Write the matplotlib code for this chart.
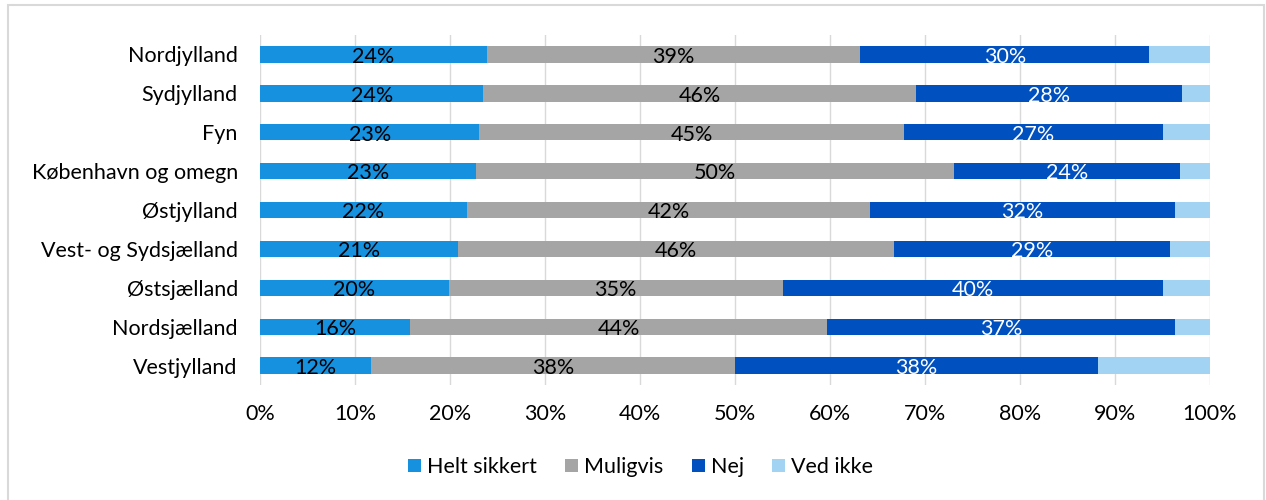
import numpy as np
import matplotlib
matplotlib.use("Agg")
import matplotlib.pyplot as plt
from matplotlib.patches import Rectangle

plt.rcParams['font.family'] = ['Lato', 'DejaVu Sans']

regions = ['Nordjylland', 'Sydjylland', 'Fyn', 'København og omegn', 'Østjylland',
           'Vest- og Sydsjælland', 'Østsjælland', 'Nordsjælland', 'Vestjylland']
helt_sikkert = [23.9, 23.5, 23.1, 22.7, 21.8, 20.8, 19.9, 15.8, 11.7]
muligvis = [39.3, 45.6, 44.7, 50.4, 42.4, 45.9, 35.1, 43.9, 38.3]
nej = [30.4, 28.0, 27.2, 23.7, 32.1, 29.1, 40.0, 36.6, 38.2]
ved_ikke = [6.4, 2.9, 5.0, 3.2, 3.7, 4.2, 5.0, 3.7, 11.8]

series = [('Helt sikkert', helt_sikkert, '#1591E0', 'black'),
          ('Muligvis', muligvis, '#A5A5A5', 'black'),
          ('Nej', nej, '#0050C0', 'white'),
          ('Ved ikke', ved_ikke, '#A3D3F2', None)]

fig = plt.figure(figsize=(12.66, 5), dpi=100)
ax = fig.add_axes([260/1266, 1 - 385/500, 950/1266, 350/500])

y = np.arange(len(regions))
left = np.zeros(len(regions))
for name, vals, color, txtcol in series:
    vals = np.array(vals)
    ax.barh(y, vals, left=left, height=0.42, color=color, label=name, zorder=2)
    if txtcol:
        for yi, l, v in zip(y, left, vals):
            ax.text(l + v / 2, yi + 0.06, f'{round(v):.0f}%', ha='center', va='center',
                    fontsize=15.5, color=txtcol, zorder=3)
    left += vals

ax.set_xlim(0, 100)
ax.set_ylim(len(regions) - 0.5, -0.5)
ax.set_yticks(y)
ax.set_yticklabels(regions, fontsize=15.5)
ax.set_xticks(np.arange(0, 101, 10))
ax.set_xticklabels([f'{t}%' for t in range(0, 101, 10)], fontsize=15.5)
ax.tick_params(length=0)
ax.tick_params(axis='y', pad=16)
ax.tick_params(axis='x', pad=14)
ax.grid(axis='x', color='#D9D9D9', linewidth=1, zorder=0)
for s in ax.spines.values():
    s.set_visible(False)

fig.legend(loc='center', bbox_to_anchor=(0.506, 0.066), ncol=4, frameon=False,
           fontsize=15.5, handlelength=0.6, handleheight=0.6, handletextpad=0.3,
           columnspacing=1.3)

fig.patches.append(Rectangle((8/1266, -0.05), 1256/1266, 1.04, transform=fig.transFigure,
                             fill=False, edgecolor='#D9D9D9', linewidth=1.5))

fig.savefig('out.png', dpi=100, facecolor='white')
